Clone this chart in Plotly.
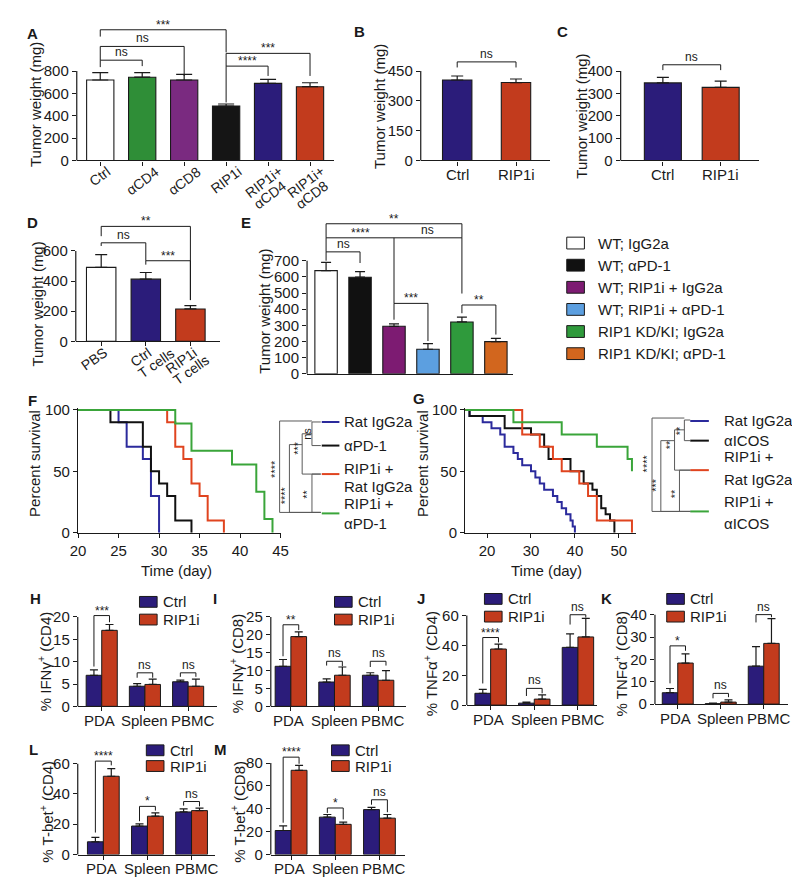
import math
import plotly.graph_objects as go

W, H = 800, 884
FONT = "Liberation Sans, Arial, Helvetica, sans-serif"
INK = "#1a1a1a"
GREY = "#5a5a5a"
NAVY = "#2b1c7a"
RED = "#c23b1d"

# ---------------- data ----------------
# A-E: tumour weight (mg), mean and SEM
A_groups = ["Ctrl", "αCD4", "αCD8", "RIP1i", "RIP1i+<br>αCD4", "RIP1i+<br>αCD8"]
A_mean = [720, 745, 720, 487, 690, 660]
A_sem = [65, 40, 50, 18, 35, 35]
A_colors = ["#ffffff", "#2f8e37", "#7a2a80", "#151515", NAVY, RED]
A_yticks = [0, 200, 400, 600, 800]
# brackets: (bar i, bar j, label, height, left leg end, right leg end)
A_sig = [(0, 3, "***", 1169, 1108, 967), (0, 2, "ns", 1020, 897, 756),
         (0, 1, "ns", 897, 835, 844), (3, 5, "***", 958, 844, 756),
         (3, 4, "****", 844, 519, 756)]

B_groups = ["Ctrl", "RIP1i"]
B_mean = [405, 392]
B_sem = [20, 18]
B_yticks = [0, 150, 300, 450]
B_sig = [(0, 1, "ns", 496, 468, 468)]

C_groups = ["Ctrl", "RIP1i"]
C_mean = [347, 327]
C_sem = [25, 28]
C_yticks = [0, 100, 200, 300, 400]
C_sig = [(0, 1, "ns", 428, 404, 404)]

D_groups = ["PBS", "Ctrl<br>T cells", "RIP1i<br>T cells"]
D_mean = [491, 413, 215]
D_sem = [85, 44, 22]
D_colors = ["#ffffff", NAVY, RED]
D_yticks = [0, 200, 400, 600]
D_sig = [(0, 2, "**", 763, 698, 274), (0, 1, "ns", 654, 633, 535),
         (1, 2, "***", 535, 509, 274)]

E_groups = ["WT; IgG2a", "WT; αPD-1", "WT; RIP1i + IgG2a", "WT; RIP1i + αPD-1",
            "RIP1 KD/KI; IgG2a", "RIP1 KD/KI; αPD-1"]
E_mean = [639, 598, 294, 152, 321, 199]
E_sem = [51, 35, 15, 35, 30, 20]
E_colors = ["#ffffff", "#111111", "#7d1b72", "#5c9fe0", "#2f9a3c", "#d2661e"]
E_yticks = [0, 100, 200, 300, 400, 500, 600, 700]
E_sig = [(0, 4, "**", 929, 842, 842), (0, 2, "****", 842, 755, 436),
         (2, 4, "ns", 842, 842, 497), (0, 1, "ns", 755, 700, 686),
         (2, 3, "***", 436, 335, 203), (4, 5, "**", 426, 375, 243)]

# F, G: survival (day of event, percent surviving after it)
SURV_COLORS = ["#2b2a9c", "#111111", "#e0441f", "#3aa53a"]
F_names = ["Rat IgG2a", "αPD-1", "RIP1i +<br>Rat IgG2a", "RIP1i +<br>αPD-1"]
F_days = [[20, 25, 26, 28, 29, 30],
          [20, 24, 28, 29, 30, 31, 32, 34],
          [20, 31, 32, 33, 34, 35, 36, 38],
          [20, 32, 34, 39, 42, 43, 44]]
F_pct = [[100, 90, 70, 60, 30, 0],
         [100, 90, 70, 50, 40, 30, 10, 0],
         [100, 90, 70, 60, 40, 30, 10, 0],
         [100, 88.9, 66.7, 55.6, 33.3, 11.1, 0]]
F_xticks = [20, 25, 30, 35, 40, 45]
F_sig = ["ns", "***", "****", "****", "**"]

G_names = ["Rat IgG2a", "αICOS", "RIP1i +<br>Rat IgG2a", "RIP1i +<br>αICOS"]
G_days = [[15, 16, 19, 21, 23, 24, 26, 27, 28, 30, 31, 32, 33, 35, 36, 37, 38, 39, 39.5, 40],
          [15, 16, 24, 30, 33, 34, 39, 42, 44, 45, 46, 47, 48, 49],
          [15, 28, 32, 35, 37, 41, 43, 45, 53],
          [15, 26, 37, 45, 52, 53]]
G_pct = [[100, 95, 90, 85, 80, 70, 65, 60, 55, 50, 45, 40, 35, 30, 25, 20, 15, 10, 5, 0],
         [100, 95, 85, 80, 70, 60, 50, 40, 35, 30, 20, 15, 10, 0],
         [100, 80, 70, 60, 50, 40, 30, 10, 0],
         [100, 90, 80, 70, 60, 50]]
G_xticks = [20, 30, 40, 50]
G_sig = ["**", "**", "****", "***", "**"]
SURV_YTICKS = [0, 50, 100]

# H-M: % positive cells, Ctrl vs RIP1i per tissue
TISSUES = ["PDA", "Spleen", "PBMC"]
SERIES = ["Ctrl", "RIP1i"]
# brackets: (tissue, label, height, ctrl leg end, RIP1i leg end)
H_ctrl, H_ctrl_sem = [6.95, 4.5, 5.5], [1.2, 0.6, 0.35]
H_rip, H_rip_sem = [17.0, 4.9, 4.5], [1.3, 1.2, 1.6]
H_yticks = [0, 5, 10, 15, 20]
H_sig = [(0, "***", 20.3, 8.9, 18.8), (1, "ns", 7.5, 6.4, 6.4), (2, "ns", 7.5, 6.6, 6.6)]

I_ctrl, I_ctrl_sem = [11.2, 6.8, 8.7], [1.9, 0.9, 0.7]
I_rip, I_rip_sem = [19.5, 8.7, 7.3], [1.3, 2.3, 2.7]
I_yticks = [0, 5, 10, 15, 20, 25]
I_sig = [(0, "**", 22.8, 14.0, 21.3), (1, "ns", 12.6, 11.4, 11.2), (2, "ns", 12.6, 11.0, 11.4)]

J_ctrl, J_ctrl_sem = [7.9, 1.3, 38.7], [2.6, 0.7, 9.0]
J_rip, J_rip_sem = [37.6, 4.0, 45.7], [3.3, 2.8, 12.5]
J_yticks = [0, 20, 40, 60]
J_sig = [(0, "****", 45.3, 14.5, 42.0), (1, "ns", 11.2, 6.1, 7.9), (2, "ns", 60.6, 54.0, 58.7)]

K_ctrl, K_ctrl_sem = [5.1, 0.2, 17.0], [1.9, 0.2, 8.8]
K_rip, K_rip_sem = [18.4, 0.9, 27.2], [4.1, 1.0, 11.1]
K_yticks = [0, 10, 20, 30, 40]
K_sig = [(0, "*", 26.1, 9.3, 23.9), (1, "ns", 4.8, 2.6, 3.1), (2, "ns", 40.1, 36.6, 38.9)]

L_ctrl, L_ctrl_sem = [8.4, 18.8, 28.1], [2.9, 1.5, 2.0]
L_rip, L_rip_sem = [51.7, 25.3, 29.0], [5.0, 2.2, 1.7]
L_yticks = [0, 20, 40, 60]
L_sig = [(0, "****", 61.7, 14.5, 58.9), (1, "*", 31.8, 22.0, 29.0), (2, "ns", 35.0, 32.3, 31.8)]

M_ctrl, M_ctrl_sem = [21.0, 32.7, 39.3], [4.0, 2.3, 2.0]
M_rip, M_rip_sem = [73.7, 26.4, 31.8], [4.3, 2.0, 3.2]
M_yticks = [0, 20, 40, 60, 80]
M_sig = [(0, "****", 85.2, 27.8, 79.4), (1, "*", 40.7, 36.4, 30.7), (2, "ns", 47.9, 43.6, 37.0)]

# ---------------- helpers ----------------
fig = go.Figure()
lay = {}
shapes, annos = [], []
count = [0]

AX = dict(showgrid=False, zeroline=False, ticks="outside", ticklen=4, tickwidth=1.2,
          tickcolor=INK, linecolor=INK, linewidth=1.2,
          tickfont=dict(size=15, color=INK), fixedrange=True)

# rough Liberation Sans advance widths (em) for laying out slanted labels
EM = {"i": .222, "l": .222, "j": .222, "t": .278, "f": .278, "r": .333, " ": .278,
      "c": .5, "s": .5, "k": .5, "v": .5, "x": .5, "y": .5, "z": .5, "m": .833, "w": .722,
      "I": .278, "M": .833, "T": .611, "F": .611, "C": .722, "D": .722, "R": .722,
      "G": .778, "+": .584, "α": .58}


def text_w(s, size):
    return size * sum(EM.get(c, .667 if c.isupper() else .556) for c in s)


def fx(x):
    return x / W


def fy(y):
    return 1 - y / H


def axes(left, right, top, bottom, xkw, ykw):
    count[0] += 1
    s = "" if count[0] == 1 else str(count[0])
    lay["xaxis" + s] = {**AX, "domain": [fx(left), fx(right)], "anchor": "y" + s,
                        "showline": True, **xkw}
    lay["yaxis" + s] = {**AX, "domain": [fy(bottom), fy(top)], "anchor": "x" + s, **ykw}
    return "x" + s, "y" + s


def text(x, y, s, size=14, xanchor="center", yanchor="middle", **kw):
    annos.append(dict(xref="paper", yref="paper", x=fx(x), y=fy(y), text=s, showarrow=False,
                      xanchor=xanchor, yanchor=yanchor, font=dict(size=size, color=INK), **kw))


def yline(g, yticks):
    shapes.append(dict(type="line", xref="paper", yref="paper",
                       x0=fx(g["left"]), x1=fx(g["left"]),
                       y0=fy(g["y0"]), y1=fy(g["y0"] - yticks[-1] * g["scale"]),
                       line=dict(color=INK, width=1.2)))


def bracket(xa, ya, x0, x1, h, lb, rb, label):
    shapes.append(dict(type="path", xref=xa, yref=ya,
                       path=f"M {x0},{lb} L {x0},{h} L {x1},{h} L {x1},{rb}",
                       line=dict(color=INK, width=1)))
    star = "*" in label
    annos.append(dict(xref=xa, yref=ya, x=(x0 + x1) / 2, y=h, text=label, showarrow=False,
                      xanchor="center", yanchor="bottom", yshift=-4 if star else -1,
                      font=dict(size=12, color=INK)))


def slanted_labels(g, labels, angle, mode="center", size=14, lh=14, gap=4):
    # left-aligned multi-line labels rotated by `angle` degrees; the block is either
    # centred under its tick, or its first line ends at the tick ("end")
    th = math.radians(angle)
    u = (math.cos(th), -math.sin(th))
    nv = (math.sin(th), math.cos(th))
    unit = (g["right"] - g["left"]) / (g["xr"][1] - g["xr"][0])
    for i, lab in enumerate(labels):
        lines = lab.split("<br>")
        ws = [text_w(s, size) for s in lines]
        wmax, hb = max(ws), lh * len(lines)
        tx = g["left"] + (i - g["xr"][0]) * unit
        if mode == "end":
            sx = tx - ws[0] * u[0]
            sy = g["y0"] + gap - ws[0] * u[1]
        else:
            bh = wmax * math.sin(th) + hb * math.cos(th)
            cy = g["y0"] + gap + bh / 2
            sx = tx - wmax / 2 * u[0] - hb / 2 * nv[0]
            sy = cy - wmax / 2 * u[1] - hb / 2 * nv[1]
        for k, (s, w) in enumerate(zip(lines, ws)):
            lx = sx + w / 2 * u[0] + (k + 0.5) * lh * nv[0]
            ly = sy + w / 2 * u[1] + (k + 0.5) * lh * nv[1]
            text(lx, ly, s, size=size, textangle=-angle)


def cat_labels(xa, y0, labels, shifts=None, gap=4):
    shifts = shifts or [0] * len(labels)
    for i, (lab, sh) in enumerate(zip(labels, shifts)):
        annos.append(dict(xref=xa, yref="paper", x=i, y=fy(y0 + gap), text=lab,
                          showarrow=False, xanchor="center", yanchor="top", xshift=sh,
                          font=dict(size=15, color=INK)))


def bar_panel(g, groups, mean, sem, colors, sig, yticks, tickangle=0, mode="center",
              show_x=True):
    top = g["y0"] - g["ytop"] * g["scale"]
    xkw = dict(range=g["xr"], tickvals=list(range(len(groups))), showticklabels=False)
    if not show_x:
        xkw.update(ticks="")
    xa, ya = axes(g["left"], g["right"], top, g["y0"], xkw,
                  dict(range=[0, g["ytop"]], tickvals=yticks, showline=False))
    yline(g, yticks)
    if show_x and tickangle:
        slanted_labels(g, groups, tickangle, mode=mode)
    elif show_x:
        cat_labels(xa, g["y0"], groups)
    fig.add_trace(go.Bar(
        x=list(range(len(groups))), y=mean, width=g["bw"],
        marker=dict(color=colors, line=dict(color=INK, width=1.1)),
        error_y=dict(type="data", symmetric=False, array=sem, arrayminus=[0] * len(sem),
                     color=INK, thickness=1.2, width=g["cap"]),
        xaxis=xa, yaxis=ya))
    for i, j, lab, h, lb, rb in sig:
        bracket(xa, ya, i, j, h, lb, rb, lab)


HW = 0.36


def group_panel(g, ctrl, ctrl_sem, rip, rip_sem, sig, yticks):
    top = g["y0"] - g["ytop"] * g["scale"]
    xa, ya = axes(g["left"], g["right"], top, g["y0"],
                  dict(range=g["xr"], tickvals=list(range(len(TISSUES))), showticklabels=False),
                  dict(range=[0, g["ytop"]], tickvals=yticks, showline=False))
    yline(g, yticks)
    cat_labels(xa, g["y0"], TISSUES, shifts=[-2, 0, 5])
    for vals, sems, col, off in ((ctrl, ctrl_sem, NAVY, -HW), (rip, rip_sem, RED, 0.0)):
        fig.add_trace(go.Bar(
            x=list(range(len(TISSUES))), y=vals, offset=off, width=HW,
            marker=dict(color=col, line=dict(color=INK, width=1)),
            error_y=dict(type="data", symmetric=False, array=sems,
                         arrayminus=[0] * len(sems), color=INK, thickness=1.2, width=4),
            xaxis=xa, yaxis=ya))
    for gi, lab, h, lb, rb in sig:
        bracket(xa, ya, gi - HW / 2, gi + HW / 2, h, lb, rb, lab)
    x, yc, yr = g["legend"]
    for name, col, yy in zip(SERIES, (NAVY, RED), (yc, yr)):
        shapes.append(dict(type="rect", xref="paper", yref="paper",
                           x0=fx(x), x1=fx(x + 18), y0=fy(yy + 5.5), y1=fy(yy - 5.5),
                           fillcolor=col, line=dict(color=INK, width=1)))
        text(x + 22, yy, name, size=15, xanchor="left")


def surv_panel(g, days, pct, xticks, names, sig):
    top = g["bottom"] - 101.5 * g["scale"]
    xa, ya = axes(g["left"], g["right"], top, g["bottom"],
                  dict(range=g["xr"], tickvals=xticks),
                  dict(range=[0, 101.5], tickvals=SURV_YTICKS))
    for d, p, c in zip(days, pct, SURV_COLORS):
        fig.add_trace(go.Scatter(x=d, y=p, mode="lines",
                                 line=dict(color=c, width=2, shape="hv"),
                                 xaxis=xa, yaxis=ya))
    lx0, lx1, tx = g["legend_x"]
    for c, ly in zip(SURV_COLORS, g["line_y"]):
        shapes.append(dict(type="line", xref="paper", yref="paper", x0=fx(lx0), x1=fx(lx1),
                           y0=fy(ly), y1=fy(ly), line=dict(color=c, width=2)))
    rows = [part for n in names for part in n.split("<br>")]
    for t, ty in zip(rows, g["text_y"]):
        text(tx, ty, t, size=15, xanchor="left")
    for lab, (x, y0, y1, xe0, xe1, ly) in zip(sig, g["brackets"]):
        shapes.append(dict(type="path", xref="paper", yref="paper",
                           path=f"M {fx(xe0)},{fy(y0)} L {fx(x)},{fy(y0)} "
                                f"L {fx(x)},{fy(y1)} L {fx(xe1)},{fy(y1)}",
                           line=dict(color=GREY, width=1)))
        text(x - 5, ly, lab, size=11, textangle=-90)


# ---------------- panel geometry (pixels) ----------------
GA = dict(left=62, right=324, y0=148, scale=0.11375, xr=[-0.56, 5.56], ytop=1185, bw=0.65, cap=8)
GB = dict(left=413, right=545, y0=148, scale=0.2022, xr=[-0.62, 1.58], ytop=515, bw=0.5, cap=6)
GC = dict(left=617, right=758, y0=148, scale=0.2275, xr=[-0.73, 1.66], ytop=445, bw=0.64, cap=6)
GD = dict(left=61, right=208, y0=332, scale=0.1533, xr=[-0.57, 2.66], ytop=785, bw=0.66, cap=6)
GE = dict(left=297, right=507, y0=365, scale=0.1643, xr=[-0.56, 5.5], ytop=945, bw=0.66, cap=5)

GF = dict(left=63.3, right=270, bottom=526.7, scale=1.25, xr=[20, 45],
          legend_x=(312, 330, 333), line_y=[414, 438, 467, 507],
          text_y=[414, 438, 461, 480, 497, 517],
          brackets=[(302, 414, 438, 311, 311, 426), (292, 426, 467, 302, 311, 440),
                    (269, 413, 506, 302, 311, 462), (279, 437, 506, 292, 311, 489),
                    (302, 467, 506, 311, 311, 488)])
GG = dict(left=458.3, right=633, bottom=526.7, scale=1.25, xr=[15, 54],
          legend_x=(688, 707, 720), line_y=[413, 433, 463, 505],
          text_y=[413, 433, 449, 473, 495, 517],
          brackets=[(682, 412, 433, 688, 688, 423), (672, 422, 463, 682, 688, 437),
                    (649, 410, 505, 682, 688, 456), (658, 433, 505, 672, 688, 478),
                    (677, 463, 505, 688, 688, 487)])

GH = dict(left=63, right=205, y0=703.3, scale=4.55, xr=[-0.555, 2.666], ytop=21.2, legend=(126, 597, 615))
GI = dict(left=260, right=398, y0=703.3, scale=3.64, xr=[-0.46, 2.64], ytop=25.5, legend=(325, 597, 615))
GJ = dict(left=460, right=593, y0=702, scale=1.517, xr=[-0.546, 2.44], ytop=62, legend=(478, 594, 612))
GK = dict(left=652, right=788, y0=701, scale=2.27, xr=[-0.53, 2.57], ytop=41, legend=(664, 594, 612))
GL = dict(left=63, right=203, y0=854, scale=1.54, xr=[-0.58, 2.53], ytop=63, legend=(133, 748, 764))
GM = dict(left=260, right=397, y0=854, scale=1.1625, xr=[-0.46, 2.58], ytop=87, legend=(322, 748, 764))

# ---------------- build ----------------
bar_panel(GA, A_groups, A_mean, A_sem, A_colors, A_sig, A_yticks, tickangle=37)
bar_panel(GB, B_groups, B_mean, B_sem, [NAVY, RED], B_sig, B_yticks)
bar_panel(GC, C_groups, C_mean, C_sem, [NAVY, RED], C_sig, C_yticks)
bar_panel(GD, D_groups, D_mean, D_sem, D_colors, D_sig, D_yticks, tickangle=35, mode="end")
bar_panel(GE, E_groups, E_mean, E_sem, E_colors, E_sig, E_yticks, show_x=False)

# legend for E
for k, (name, col) in enumerate(zip(E_groups, E_colors)):
    yy = 232 + k * 22.5
    shapes.append(dict(type="rect", xref="paper", yref="paper", x0=fx(562), x1=fx(580),
                       y0=fy(yy + 6), y1=fy(yy - 6), fillcolor=col,
                       line=dict(color=INK, width=1)))
    text(592, yy, name, size=15, xanchor="left")

surv_panel(GF, F_days, F_pct, F_xticks, F_names, F_sig)
surv_panel(GG, G_days, G_pct, G_xticks, G_names, G_sig)

group_panel(GH, H_ctrl, H_ctrl_sem, H_rip, H_rip_sem, H_sig, H_yticks)
group_panel(GI, I_ctrl, I_ctrl_sem, I_rip, I_rip_sem, I_sig, I_yticks)
group_panel(GJ, J_ctrl, J_ctrl_sem, J_rip, J_rip_sem, J_sig, J_yticks)
group_panel(GK, K_ctrl, K_ctrl_sem, K_rip, K_rip_sem, K_sig, K_yticks)
group_panel(GL, L_ctrl, L_ctrl_sem, L_rip, L_rip_sem, L_sig, L_yticks)
group_panel(GM, M_ctrl, M_ctrl_sem, M_rip, M_rip_sem, M_sig, M_yticks)

# axis titles
for x, y, t in [(20, 91, "Tumor weight (mg)"), (371, 93, "Tumor weight (mg)"),
                (577, 103, "Tumor weight (mg)"), (21, 294, "Tumor weight (mg)"),
                (254, 301, "Tumor weight (mg)"), (19, 456, "Percent survival"),
                (415, 456, "Percent survival"),
                (29, 658, "% IFNγ<sup>+</sup> (CD4)"), (225, 660, "% IFNγ<sup>+</sup> (CD8)"),
                (423, 660, "% TNFα<sup>+</sup> (CD4)"), (617, 660, "% TNFα<sup>+</sup> (CD8)"),
                (31, 810, "% T-bet<sup>+</sup> (CD4)"), (226, 810, "% T-bet<sup>+</sup> (CD8)")]:
    text(x, y, t, size=15, textangle=-90)
text(164, 565, "Time (day)", size=15)
text(541, 565, "Time (day)", size=15)

# panel letters
for x, y, t in [(17, 19, "A"), (350, 17, "B"), (558, 17, "C"), (17, 211, "D"), (235, 211, "E"),
                (17, 392, "F"), (411, 390, "G"), (20, 594, "H"), (203, 594, "I"),
                (413, 594, "J"), (603, 594, "K"), (18, 747, "L"), (209, 747, "M")]:
    text(x, y, f"<b>{t}</b>", size=15)

lay.update(width=W, height=H, margin=dict(l=0, r=0, t=0, b=0), showlegend=False,
           paper_bgcolor="white", plot_bgcolor="white", barmode="overlay",
           font=dict(family=FONT, size=14, color=INK), shapes=shapes, annotations=annos)
fig.update_layout(**lay)
fig.write_html("out.html")
